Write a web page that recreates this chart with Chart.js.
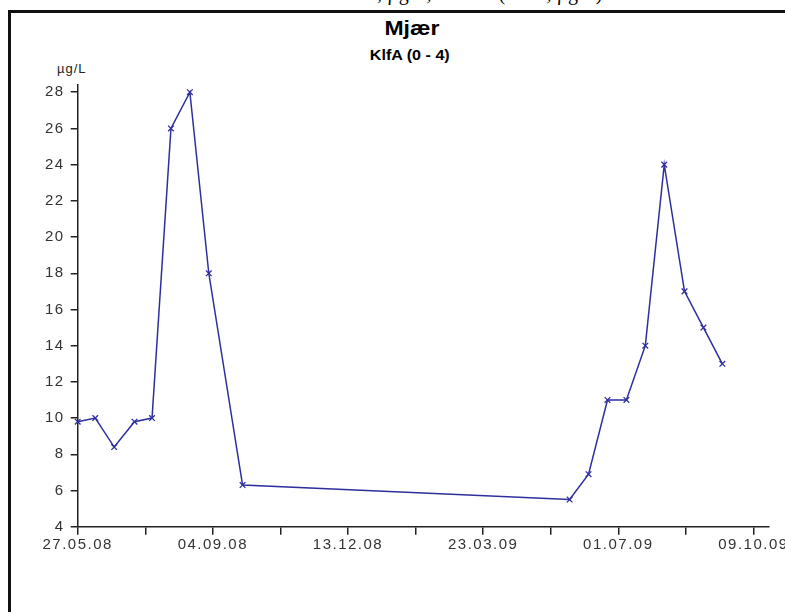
<!DOCTYPE html>
<html>
<head>
<meta charset="utf-8">
<script src="https://cdn.jsdelivr.net/npm/chart.js@4.4.0/dist/chart.umd.min.js"></script>
<style>
  html, body { margin: 0; padding: 0; background: #fff; }
  #page { position: relative; width: 785px; height: 612px; overflow: hidden; }
  #lineLeft { position: absolute; left: 8px; top: 10px; width: 3px; height: 602px; background: #111; }
  #lineTop { position: absolute; left: 8px; top: 10px; width: 777px; height: 3px; background: #111; }
  #chart { position: absolute; left: 11px; top: 13px; }
  .txt { position: absolute; font-family: "Liberation Sans", Arial, sans-serif; line-height: 1; white-space: nowrap; color: #000; }
  .txt span { display: inline-block; transform: scaleX(1.15); }
  #cut { font-family: "Liberation Serif", "Times New Roman", serif; font-size: 20px; top: -17px; left: 336px; }
  #title { font-weight: bold; font-size: 20px; top: 18px; left: 0; width: 824px; text-align: center; }
  #subtitle { font-weight: bold; font-size: 14px; top: 48px; left: 0; width: 820px; text-align: center; }
  #unit { font-size: 13px; top: 62px; left: 57px; color: #222; letter-spacing: 1px; }
</style>
</head>
<body>
<div id="page">
  <div id="lineLeft"></div>
  <div id="lineTop"></div>
  <div class="txt" id="cut">KlfA, µg/L, 0 - 4 m (KlfA, µg/L)</div>
  <div class="txt" id="title"><span>Mjær</span></div>
  <div class="txt" id="subtitle"><span>KlfA (0 - 4)</span></div>
  <div class="txt" id="unit">µg/L</div>
  <canvas id="chart" width="774" height="599"></canvas>
</div>
<script>
// sampling dates and chlorophyll a values (µg/L)
const sampleDates = [
  '27.05.08', '09.06.08', '23.06.08', '08.07.08', '21.07.08', '04.08.08', '18.08.08', '01.09.08', '26.09.08',
  '26.05.09', '09.06.09', '23.06.09', '07.07.09', '21.07.09', '04.08.09', '19.08.09', '02.09.09', '16.09.09'
];
const klfaValues = [9.8, 10.0, 8.4, 9.8, 10.0, 26, 28, 18, 6.3, 5.5, 6.9, 11, 11, 14, 24, 17, 15, 13];

const startDate = '27.05.08';
const axisEndDays = 511;
const DAY = 86400000;

function parseDate(s) {
  const [d, m, y] = s.split('.').map(Number);
  return Date.UTC(2000 + y, m - 1, d);
}

const START = parseDate(startDate);

function dayLabel(v) {
  const d = new Date(START + v * DAY);
  const dd = String(d.getUTCDate()).padStart(2, '0');
  const mm = String(d.getUTCMonth() + 1).padStart(2, '0');
  const yy = String(d.getUTCFullYear() % 100).padStart(2, '0');
  return `${dd}.${mm}.${yy}`;
}

const points = sampleDates.map((s, i) => ({
  x: Math.round((parseDate(s) - START) / DAY),
  y: klfaValues[i]
}));

// wider tick lettering like the original
const spacing = {
  id: 'spacing',
  beforeDraw(chart) {
    chart.ctx.letterSpacing = '1.5px';
  }
};

const tickFont = { family: '"Liberation Sans", Arial, sans-serif', size: 15 };

new Chart(document.getElementById('chart').getContext('2d'), {
  type: 'line',
  data: {
    datasets: [{
      data: points,
      borderColor: '#2e2e9e',
      backgroundColor: '#2e2e9e',
      borderWidth: 1.5,
      pointStyle: 'crossRot',
      pointRadius: 4,
      pointBorderWidth: 1.3,
      tension: 0,
      fill: false,
      clip: false
    }]
  },
  options: {
    responsive: false,
    animation: false,
    layout: { padding: { top: 72, left: 0, right: 16.7, bottom: 25.3 } },
    plugins: {
      legend: { display: false },
      tooltip: { enabled: false }
    },
    scales: {
      x: {
        type: 'linear',
        min: 0,
        max: axisEndDays,
        ticks: {
          stepSize: 50,
          includeBounds: false,
          autoSkip: false,
          maxRotation: 0,
          padding: 1,
          color: '#333',
          font: tickFont,
          callback: v => (v % 100 === 0 ? dayLabel(v) : '')
        },
        grid: { drawOnChartArea: false, drawTicks: true, tickLength: 8, color: '#222', lineWidth: 1.5 },
        border: { color: '#222', width: 1.5 },
        // last label is cut at the edge, like the original
        afterFit: s => { s.height = 60; s.paddingLeft = 0; s.paddingRight = 0; }
      },
      y: {
        min: 4,
        max: 28.4,
        ticks: {
          stepSize: 2,
          includeBounds: false,
          padding: 6,
          color: '#333',
          font: tickFont
        },
        grid: { drawOnChartArea: false, drawTicks: true, tickLength: 7, color: '#222', lineWidth: 1.5 },
        border: { color: '#222', width: 1.5 },
        afterFit: s => { s.width = 66.7; }
      }
    }
  },
  plugins: [spacing]
});
</script>
</body>
</html>
